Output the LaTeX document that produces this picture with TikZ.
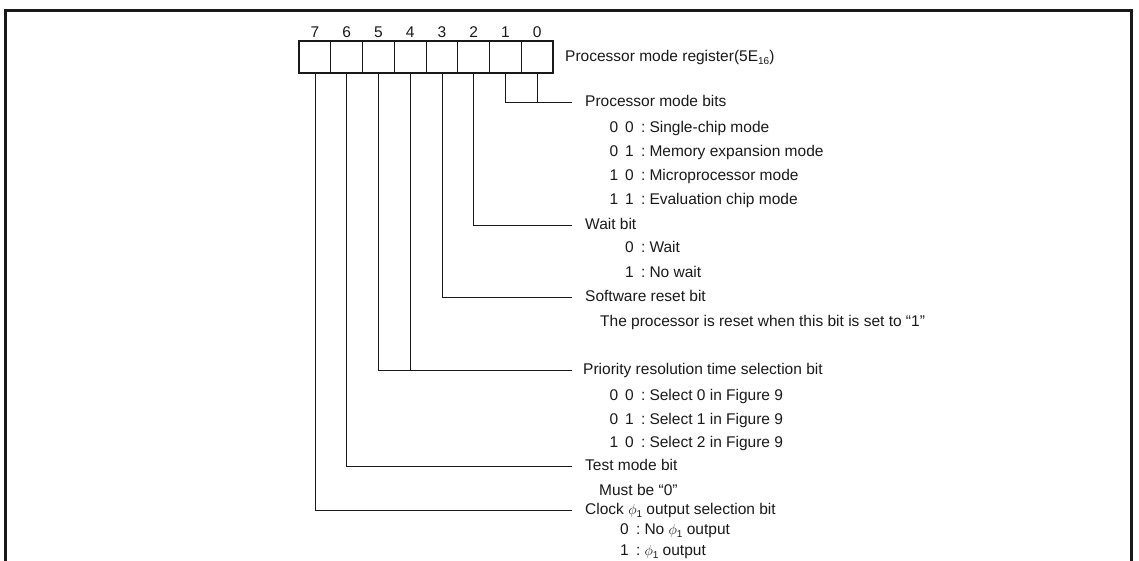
\documentclass[tikz,border=0pt]{standalone}
\usepackage{fontspec}
\setmainfont{Liberation Sans}
\usepackage{tikz}
\usetikzlibrary{positioning, calc}
\definecolor{ink}{RGB}{25,25,25}

% small lowered index in the text font
\newcommand{\lowidx}[1]{\raisebox{-3pt}{\fontsize{10}{10}\selectfont #1}}
% one option line: name, y, colon x, value, text
\newcommand{\optline}[5]{%
  \node[val, anchor=east] (#1v) at ({#3-8},#2) {#4};
  \node[val, anchor=west] (#1t) at ({#3-1},#2) {:\hspace{4pt}#5};
}

\begin{document}
\begin{tikzpicture}[x=1pt, y=-1pt, ink, font=\fontsize{15.5}{18}\selectfont,
  cell/.style={draw, line width=0.8pt, minimum width=31.75pt, minimum height=32pt, inner sep=0pt, outer sep=0pt},
  head/.style={anchor=west, inner sep=0pt, text height=11pt, text depth=3pt},
  val/.style={inner sep=0pt, text height=11pt, text depth=3pt},
  lead/.style={line width=0.8pt}]
\useasboundingbox (0,0) rectangle (1139,560);

% outer frame, open at the bottom
\draw[line width=3pt] (5,562) -- (5,10) -- (1131.5,10) -- (1131.5,562);

% register cells 7..0
\foreach \i in {0,...,7}{
  \node (b\i) [cell] at ({315+(7-\i)*31.75},57) {};
  \node (n\i) [above=3pt of b\i.north, inner sep=0pt] {\i};
}
\draw[line width=2pt] (b7.north west) rectangle (b0.south east);
\node (reg) [head] at (565,57) {Processor mode register(5E\lowidx{16})};

% bit descriptions
\node (pmb) [head] at (585,102) {Processor mode bits};
\optline{o1}{128}{642}{0\hspace{7pt}0}{Single-chip mode}
\optline{o2}{152}{642}{0\hspace{7pt}1}{Memory expansion mode}
\optline{o3}{176}{642}{1\hspace{7pt}0}{Microprocessor mode}
\optline{o4}{200}{642}{1\hspace{7pt}1}{Evaluation chip mode}

\node (wtb) [head] at (585,225) {Wait bit};
\optline{w1}{248}{642}{0}{Wait}
\optline{w2}{273}{642}{1}{No wait}

\node (srb) [head] at (585,297) {Software reset bit};
\node (srn) [head] at (600,322) {The processor is reset when this bit is set to “1”};

\node (prb) [head] at (583,370) {Priority resolution time selection bit};
\optline{p1}{396}{642}{0\hspace{7pt}0}{Select 0 in Figure 9}
\optline{p2}{420}{642}{0\hspace{7pt}1}{Select 1 in Figure 9}
\optline{p3}{443}{642}{1\hspace{7pt}0}{Select 2 in Figure 9}

\node (tmb) [head] at (585,466) {Test mode bit};
\node (tmn) [head] at (599,491) {Must be “0”};

\node (ckb) [head] at (585,510) {Clock $\phi$\lowidx{1} output selection bit};
\optline{c1}{530}{637}{0}{No $\phi$\lowidx{1} output}
\optline{c2}{551}{637}{1}{$\phi$\lowidx{1} output}

% leader lines
\draw[lead] (b1.south) |- ([xshift=-13pt]pmb.west);
\draw[lead] (b0.south) -- (b0.south |- pmb.west);
\draw[lead] (b2.south) |- ([xshift=-13pt]wtb.west);
\draw[lead] (b3.south) |- ([xshift=-13pt]srb.west);
\draw[lead] (b5.south) |- ([xshift=-11pt]prb.west);
\draw[lead] (b4.south) -- (b4.south |- prb.west);
\draw[lead] (b6.south) |- ([xshift=-13pt]tmb.west);
\draw[lead] (b7.south) |- ([xshift=-13pt]ckb.west);
\end{tikzpicture}
\end{document}
